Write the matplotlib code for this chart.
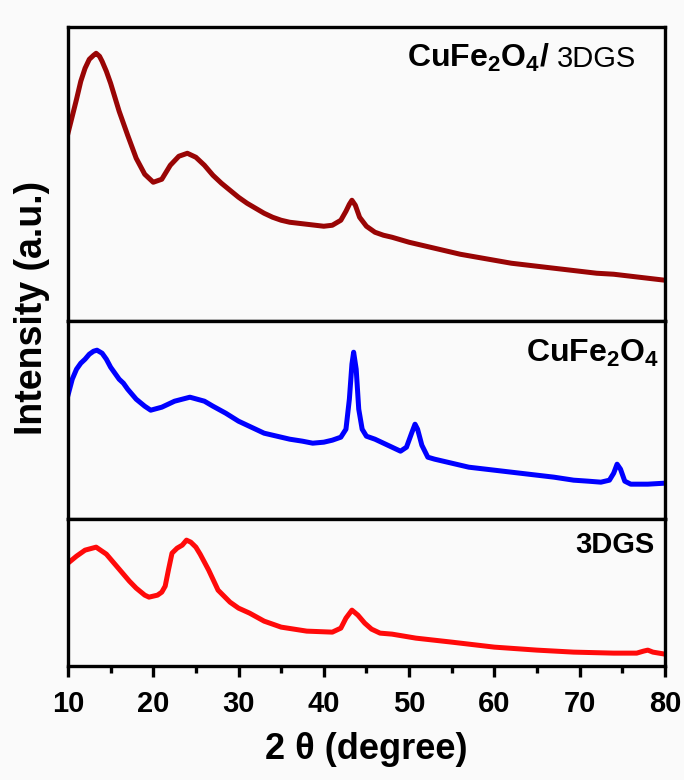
import matplotlib
matplotlib.use("Agg")
import matplotlib.pyplot as plt

plt.rcParams["font.family"] = ["Liberation Sans", "DejaVu Sans"]
plt.rcParams["mathtext.fontset"] = "custom"
plt.rcParams["mathtext.rm"] = "Liberation Sans"
plt.rcParams["mathtext.bf"] = "Liberation Sans:bold"
plt.rcParams["mathtext.default"] = "bf"

# 2theta positions and intensities (a.u.)
x_comp = [10, 10.5, 11, 11.5, 12, 12.5, 13, 13.3, 13.7, 14, 14.5, 15, 15.5, 16, 17, 18, 19, 20,
          21, 22, 23, 24, 25, 26, 27, 28, 29, 30, 31, 32, 33, 34, 35, 36, 37, 38, 39, 40,
          41, 42, 42.6, 43.0, 43.3, 43.7, 44.2, 45, 46, 47, 48, 50, 52, 54, 56, 58, 60,
          62, 64, 66, 68, 70, 72, 74, 76, 78, 80]
y_comp = [188, 205, 222, 240, 253, 262, 266, 268, 265, 260, 250, 238, 224, 210, 186, 163, 147, 139,
          142, 156, 165, 168, 164, 156, 146, 138, 131, 124, 118, 113, 108, 104, 101, 99, 98, 97, 96, 95,
          96, 101, 110, 117, 121, 116, 104, 95, 89, 86, 84, 79, 75, 71, 67, 64, 61,
          58, 56, 54, 52, 50, 48, 47, 45, 43, 41]

x_cufe = [10, 10.5, 11, 11.5, 12, 12.5, 13, 13.4, 14, 14.5, 15, 16, 16.5, 17, 18, 19, 19.7, 21,
          22.5, 24.3, 26, 27, 28.5, 30, 31.5, 33, 34.5, 36, 37.5, 38.7, 40, 41, 42, 42.6, 43.0,
          43.3, 43.5, 43.8, 44.1, 44.5, 45, 46, 47, 48, 49, 49.7, 50.3, 50.7, 51.0, 51.5, 52.2,
          53, 55, 57, 60, 62, 65, 67, 69.3, 71, 72.5, 73.5, 74.0, 74.4, 74.8, 75.3, 76, 78, 80]
y_cufe = [124, 140, 150, 156, 160, 165, 168, 169, 166, 160, 152, 140, 136, 130, 120, 113, 109, 112,
          118, 122, 118, 113, 106, 98, 92, 86, 83, 80, 78, 76, 77, 79, 82, 90, 120,
          155, 167, 150, 110, 90, 83, 80, 76, 72, 68, 72, 86, 95, 90, 74, 62,
          60, 56, 52, 49, 47, 44, 42, 39, 38, 37, 39, 46, 55, 50, 38, 35, 35, 36]

x_3dgs = [10, 11, 12, 13.3, 14.5, 15.5, 16.4, 17.2, 18, 19, 19.5, 20.5, 21, 21.4, 21.8, 22.2, 22.8,
          23.4, 23.9, 24.4, 25, 25.5, 26.5, 27.6, 29, 30, 31.3, 33, 35, 38, 41, 42, 42.6, 43.3,
          44, 44.8, 45.6, 46.6, 48, 50.8, 55, 60, 65, 69.3, 74, 76.7, 77.5, 78, 78.6, 80]
y_3dgs = [103, 110, 116, 119, 112, 102, 93, 85, 78, 71, 69, 71, 74, 80, 97, 113, 118,
          121, 126, 124, 119, 112, 96, 76, 64, 58, 53, 45, 39, 35, 34, 38, 48, 56,
          51, 43, 37, 33, 32, 28, 24, 19, 16, 14, 13, 13, 15, 16, 14, 12]

x_ticks = [10, 20, 30, 40, 50, 60, 70, 80]
panel_heights = [294, 198, 147]

fig = plt.figure(figsize=(6.84, 7.80), dpi=100)
fig.patch.set_facecolor("#fafafa")
gs = fig.add_gridspec(3, 1, height_ratios=panel_heights, hspace=0,
                      left=0.0994, right=0.972, bottom=0.146, top=0.965)
axes = [fig.add_subplot(gs[i]) for i in range(3)]

series = [(x_comp, y_comp, "#990505"), (x_cufe, y_cufe, "#0000ff"), (x_3dgs, y_3dgs, "#ff0a0a")]
for ax, (xs, ys, c), h in zip(axes, series, panel_heights):
    ax.plot(xs, ys, color=c, lw=3.6, solid_joinstyle="round")
    ax.set_xlim(10, 80)
    ax.set_ylim(0, h)
    ax.set_facecolor("#fafafa")
    ax.set_yticks([])
    for s in ax.spines.values():
        s.set_linewidth(2.4)
    ax.tick_params(axis="x", which="both", bottom=False, labelbottom=False)

ax = axes[2]
ax.set_xticks(x_ticks)
ax.set_xticks(range(15, 80, 10), minor=True)
ax.tick_params(axis="x", which="major", bottom=True, labelbottom=True, direction="out",
               length=8, width=2.4, labelsize=21, pad=9)
ax.tick_params(axis="x", which="minor", bottom=True, direction="out", length=5, width=2.4)
for lab in ax.get_xticklabels():
    lab.set_fontweight("bold")
ax.set_xlabel("2 θ (degree)", fontsize=26, fontweight="bold", labelpad=10)

fig.text(0.047, 0.605, "Intensity (a.u.)", rotation=90, fontsize=27, fontweight="bold",
         ha="center", va="center")

axes[0].text(0.807, 0.864, r"CuFe$_2$O$_4$/", transform=axes[0].transAxes, fontsize=23,
             fontweight="bold", ha="right", va="baseline")
axes[0].text(0.819, 0.864, "3DGS", transform=axes[0].transAxes, fontsize=21,
             ha="left", va="baseline")
axes[1].text(0.99, 0.793, r"CuFe$_2$O$_4$", transform=axes[1].transAxes, fontsize=23,
             fontweight="bold", ha="right", va="baseline")
axes[2].text(0.983, 0.769, "3DGS", transform=axes[2].transAxes, fontsize=21,
             fontweight="bold", ha="right", va="baseline")

fig.savefig("out.png", dpi=100, facecolor=fig.get_facecolor())
